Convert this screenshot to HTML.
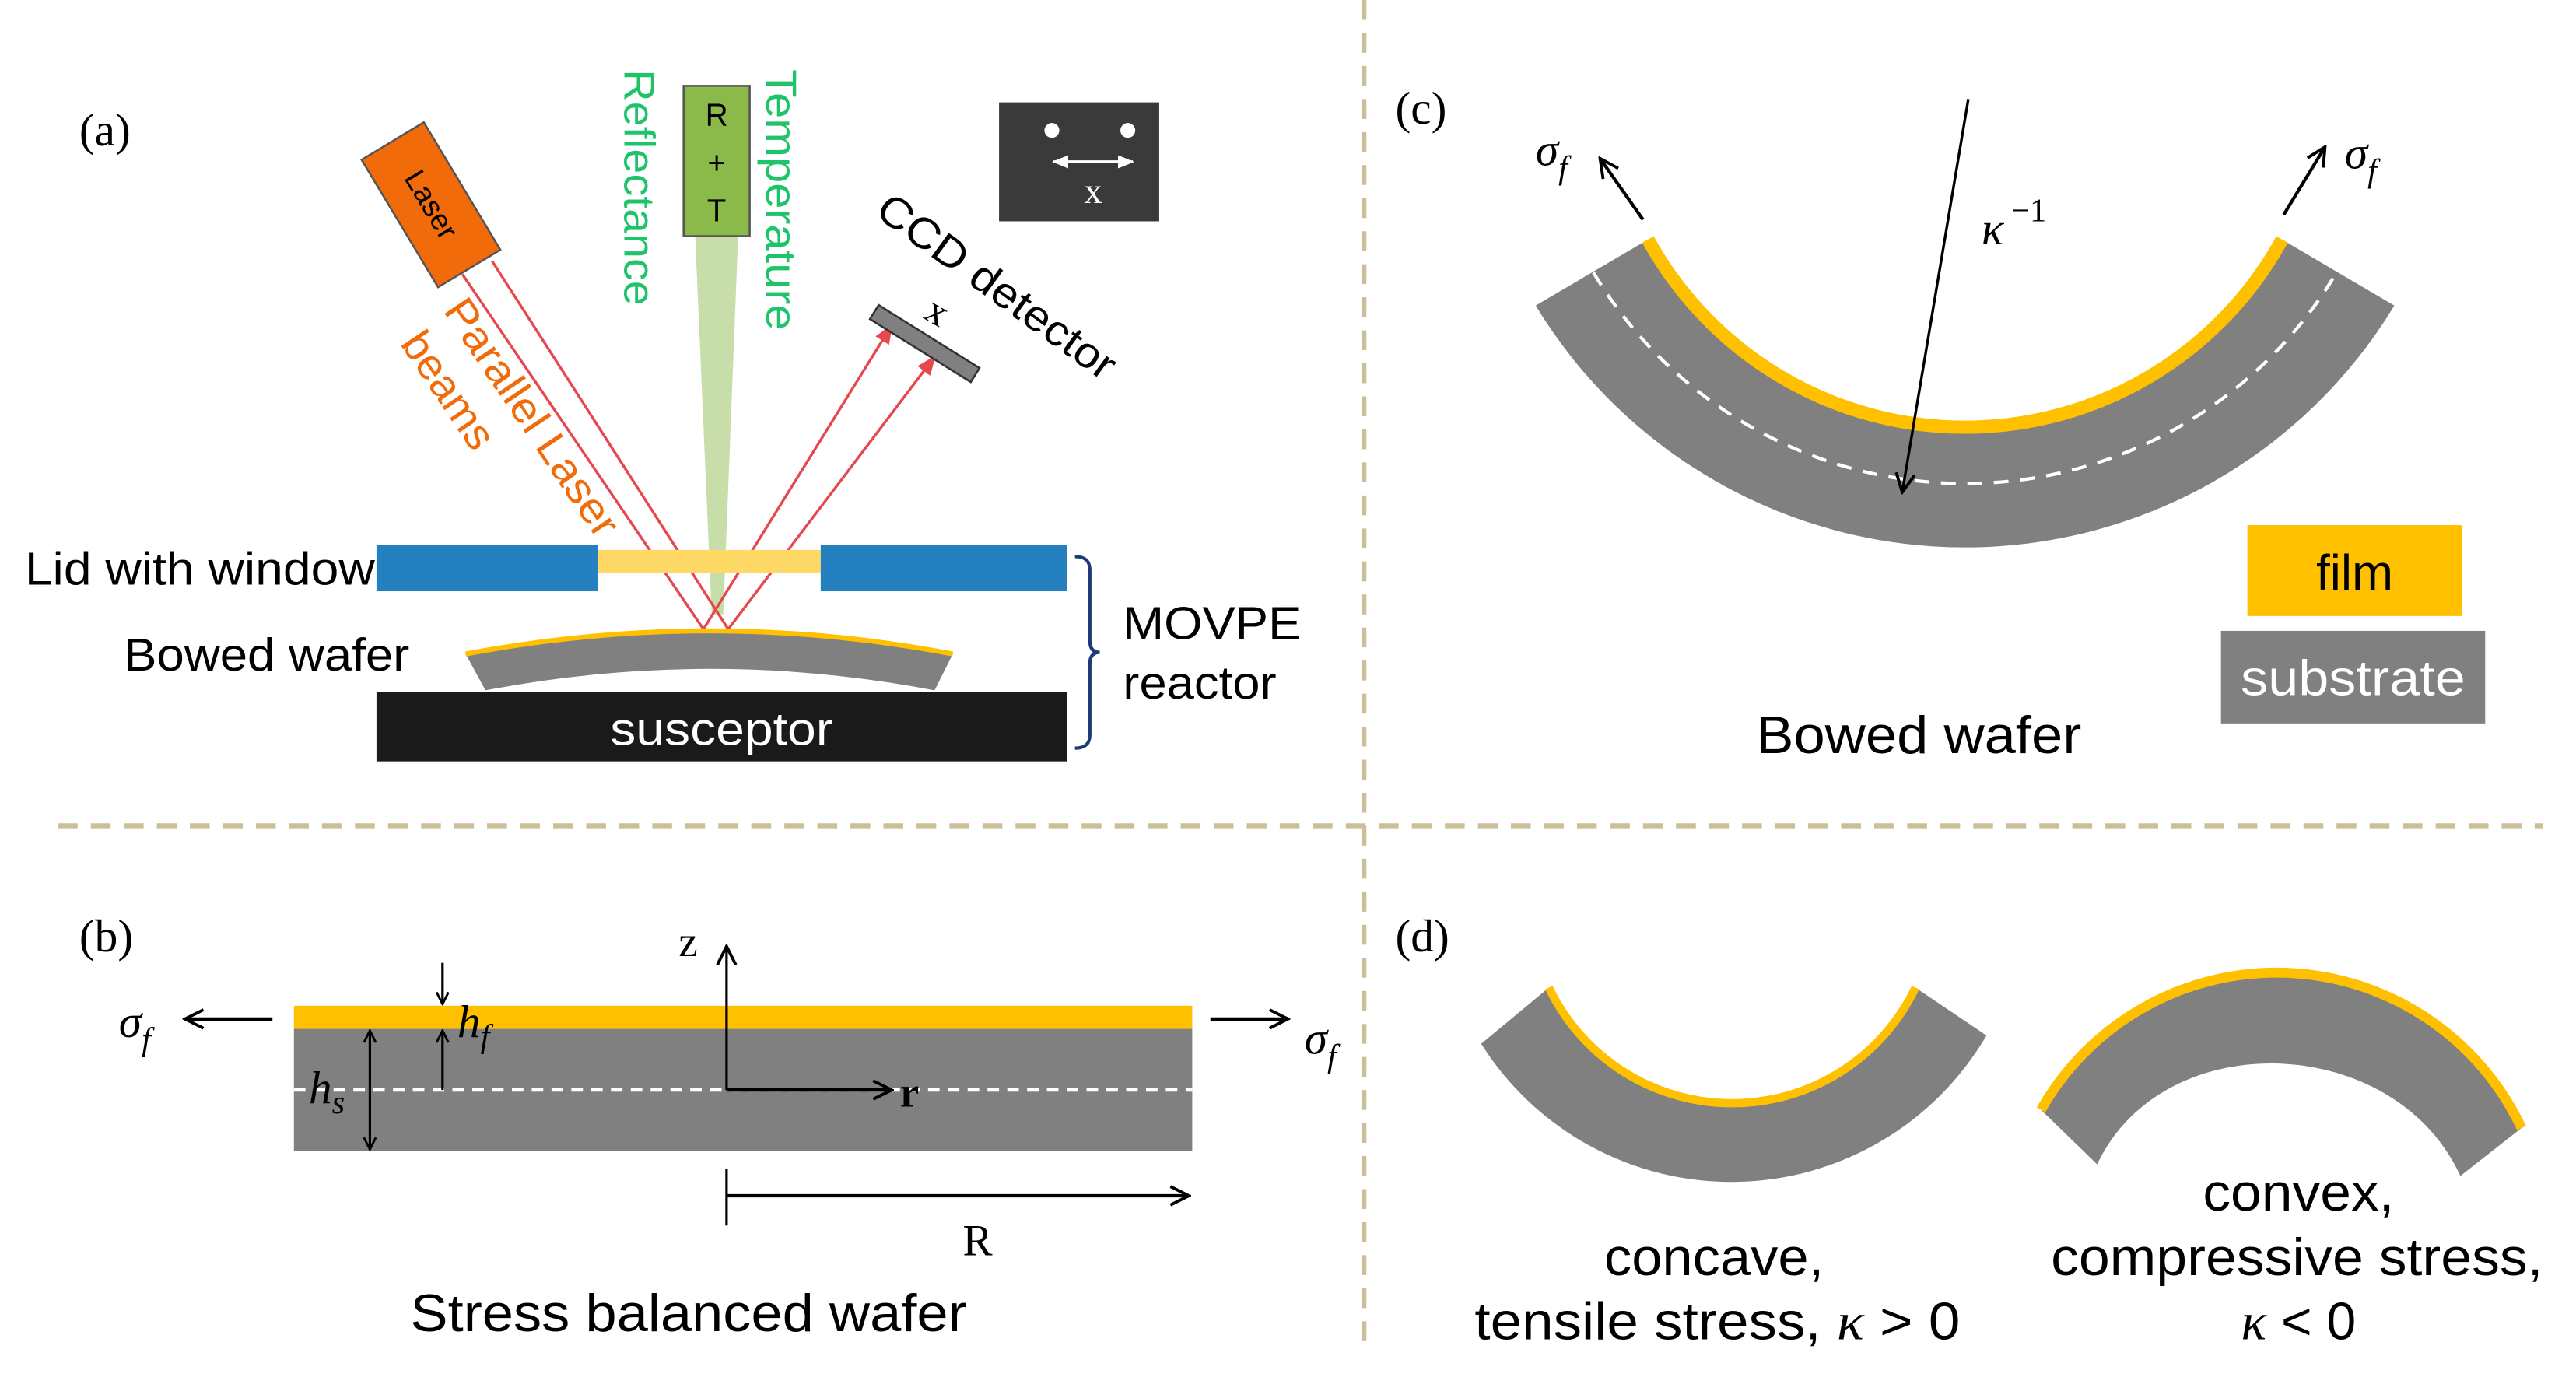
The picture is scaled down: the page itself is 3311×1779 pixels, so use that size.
<!DOCTYPE html>
<html><head><meta charset="utf-8"><style>html,body{margin:0;padding:0;background:#fff}svg{display:block}</style></head>
<body>
<svg width="3311" height="1779" viewBox="0 0 1560 838" preserveAspectRatio="none" xmlns="http://www.w3.org/2000/svg" font-family="Liberation Sans, sans-serif">
<defs>
<marker id="ab" viewBox="0 0 10 10" refX="9" refY="5" markerWidth="9" markerHeight="9" markerUnits="userSpaceOnUse" orient="auto"><path d="M1,1 L9,5 L1,9" fill="none" stroke="#000" stroke-width="1.5"/></marker>
<marker id="ab2" viewBox="0 0 10 10" refX="9" refY="5" markerWidth="14" markerHeight="14" markerUnits="userSpaceOnUse" orient="auto"><path d="M1,1 L9,5 L1,9" fill="none" stroke="#000" stroke-width="1.3"/></marker>
<marker id="ar" viewBox="0 0 10 10" refX="9" refY="5" markerWidth="12" markerHeight="12" markerUnits="userSpaceOnUse" orient="auto"><path d="M0,1 L10,5 L0,9 z" fill="#e5484d"/></marker>
<marker id="aw" viewBox="0 0 10 10" refX="9" refY="5" markerWidth="10" markerHeight="10" markerUnits="userSpaceOnUse" orient="auto-start-reverse"><path d="M0,1 L10,5 L0,9 z" fill="#fff"/></marker>
</defs>
<rect width="1560" height="838" fill="#fff"/>
<!-- dividers -->
<line x1="826" y1="0" x2="826" y2="815" stroke="#cbbf98" stroke-width="3" stroke-dasharray="12,8"/>
<line x1="35" y1="500" x2="1540" y2="500" stroke="#cbbf98" stroke-width="3" stroke-dasharray="12,8"/>

<!-- (a) -->
<text x="48" y="88" font-family="Liberation Serif, serif" font-size="28">(a)</text>
<g transform="translate(261,124) rotate(-31)">
<rect x="-22" y="-45" width="44" height="90" fill="#f26b0a" stroke="#555" stroke-width="1.2"/>
<text x="0" y="0" transform="rotate(90)" font-size="18" text-anchor="middle" dominant-baseline="central">Laser</text>
</g>
<polygon points="421,143 447,143 438,372 431,372" fill="#c8deaa"/>
<rect x="414" y="52" width="40" height="91" fill="#8cba4a" stroke="#555" stroke-width="1.2"/>
<text x="434" y="76" font-size="19" text-anchor="middle">R</text>
<text x="434" y="105" font-size="19" text-anchor="middle">+</text>
<text x="434" y="134" font-size="19" text-anchor="middle">T</text>
<text transform="translate(378,42) rotate(90)" font-size="26" fill="#1fc46a" textLength="143" lengthAdjust="spacingAndGlyphs">Reflectance</text>
<text transform="translate(464,42) rotate(90)" font-size="26" fill="#1fc46a" textLength="158" lengthAdjust="spacingAndGlyphs">Temperature</text>
<!-- beams -->
<line x1="280" y1="166" x2="426" y2="381" stroke="#e5484d" stroke-width="1.6"/>
<line x1="298" y1="158" x2="441" y2="381" stroke="#e5484d" stroke-width="1.6"/>
<line x1="426" y1="381" x2="540" y2="197" stroke="#e5484d" stroke-width="1.6" marker-end="url(#ar)"/>
<line x1="441" y1="381" x2="566" y2="216" stroke="#e5484d" stroke-width="1.6" marker-end="url(#ar)"/>
<text transform="translate(268,188) rotate(56)" font-size="26" fill="#f26b0a" textLength="168" lengthAdjust="spacingAndGlyphs">Parallel Laser</text>
<text transform="translate(242,208) rotate(56)" font-size="26" fill="#f26b0a" textLength="80" lengthAdjust="spacingAndGlyphs">beams</text>
<!-- CCD -->
<g transform="translate(560,208) rotate(32)">
<rect x="-36" y="-5" width="72" height="10" fill="#808080" stroke="#333" stroke-width="1.2"/>
</g>
<text x="560" y="197" font-family="Liberation Serif, serif" font-size="24" transform="rotate(30 568 192)">x</text>
<text transform="translate(529,130) rotate(36)" font-size="26" textLength="172" lengthAdjust="spacingAndGlyphs">CCD detector</text>
<rect x="605" y="62" width="97" height="72" fill="#3a3a3a"/>
<circle cx="637" cy="79" r="4.5" fill="#fff"/><circle cx="683" cy="79" r="4.5" fill="#fff"/>
<line x1="638" y1="98" x2="686" y2="98" stroke="#fff" stroke-width="1.8" marker-start="url(#aw)" marker-end="url(#aw)"/>
<text x="662" y="123" font-family="Liberation Serif, serif" font-size="22" fill="#fff" text-anchor="middle">x</text>
<!-- lid -->
<rect x="362" y="333" width="135" height="14" fill="#ffd966"/>
<rect x="228" y="330" width="134" height="28" fill="#2580c0"/>
<rect x="497" y="330" width="149" height="28" fill="#2580c0"/>
<text x="15" y="354" font-size="28" textLength="212" lengthAdjust="spacingAndGlyphs">Lid with window</text>
<!-- bowed wafer -->
<path d="M282,396 Q430,368 577,396 L566,418 Q430,392 294,418 Z" fill="#808080"/>
<path d="M282,396 Q430,368 577,396" fill="none" stroke="#ffc000" stroke-width="3"/>
<text x="75" y="406" font-size="28" textLength="173" lengthAdjust="spacingAndGlyphs">Bowed wafer</text>
<rect x="228" y="419" width="418" height="42" fill="#1a1a1a"/>
<text x="437" y="451" font-size="28" fill="#fff" text-anchor="middle" textLength="135" lengthAdjust="spacingAndGlyphs">susceptor</text>
<path d="M651,337 Q660,337 660,345 L660,388 Q660,395 666,395 Q660,395 660,402 L660,445 Q660,453 651,453" fill="none" stroke="#1f3a78" stroke-width="2"/>
<text x="680" y="387" font-size="28" textLength="108" lengthAdjust="spacingAndGlyphs">MOVPE</text>
<text x="680" y="423" font-size="28" textLength="93" lengthAdjust="spacingAndGlyphs">reactor</text>

<!-- (c) -->
<text x="845" y="75" font-family="Liberation Serif, serif" font-size="28">(c)</text>
<path d="M998,145 A219,219 0 0 0 1382,145 L1450,185 A304,304 0 0 1 930,185 Z" fill="#808080"/>
<path d="M998,145 A219,219 0 0 0 1382,145" fill="none" stroke="#ffc000" stroke-width="8"/>
<path d="M965,165 A262,262 0 0 0 1415,165" fill="none" stroke="#fff" stroke-width="2" stroke-dasharray="9,7"/>
<line x1="1192" y1="60" x2="1152" y2="298" stroke="#000" stroke-width="1.6" marker-end="url(#ab2)"/>
<text x="1200" y="148" font-family="Liberation Serif, serif" font-style="italic" font-size="28">κ</text>
<text x="1218" y="134" font-family="Liberation Serif, serif" font-size="20">−1</text>
<line x1="995" y1="133" x2="969" y2="96" stroke="#000" stroke-width="2" marker-end="url(#ab2)"/>
<line x1="1383" y1="130" x2="1408" y2="89" stroke="#000" stroke-width="2" marker-end="url(#ab2)"/>
<text x="930" y="100" font-family="Liberation Serif, serif" font-style="italic" font-size="28">σ<tspan font-size="20" dy="8">f</tspan></text>
<text x="1420" y="102" font-family="Liberation Serif, serif" font-style="italic" font-size="28">σ<tspan font-size="20" dy="8">f</tspan></text>
<rect x="1361" y="318" width="130" height="55" fill="#ffc000"/>
<text x="1426" y="357" font-size="30" text-anchor="middle">film</text>
<rect x="1345" y="382" width="160" height="56" fill="#808080"/>
<text x="1425" y="421" font-size="30" fill="#fff" text-anchor="middle" textLength="136" lengthAdjust="spacingAndGlyphs">substrate</text>
<text x="1162" y="456" font-size="32" text-anchor="middle" textLength="197" lengthAdjust="spacingAndGlyphs">Bowed wafer</text>

<!-- (b) -->
<text x="48" y="576" font-family="Liberation Serif, serif" font-size="28">(b)</text>
<rect x="178" y="609" width="544" height="14" fill="#ffc000"/>
<rect x="178" y="623" width="544" height="74" fill="#808080"/>
<line x1="178" y1="660" x2="722" y2="660" stroke="#fff" stroke-width="2" stroke-dasharray="7,5"/>
<line x1="165" y1="617" x2="112" y2="617" stroke="#000" stroke-width="2" marker-end="url(#ab2)"/>
<line x1="733" y1="617" x2="780" y2="617" stroke="#000" stroke-width="2" marker-end="url(#ab2)"/>
<text x="72" y="628" font-family="Liberation Serif, serif" font-style="italic" font-size="28">σ<tspan font-size="20" dy="8">f</tspan></text>
<text x="790" y="638" font-family="Liberation Serif, serif" font-style="italic" font-size="28">σ<tspan font-size="20" dy="8">f</tspan></text>
<line x1="268" y1="583" x2="268" y2="608" stroke="#000" stroke-width="1.5" marker-end="url(#ab)"/>
<line x1="268" y1="660" x2="268" y2="624" stroke="#000" stroke-width="1.5" marker-end="url(#ab)"/>
<text x="277" y="628" font-family="Liberation Serif, serif" font-style="italic" font-size="28">h<tspan font-size="20" dy="6">f</tspan></text>
<line x1="224" y1="660" x2="224" y2="624" stroke="#000" stroke-width="1.5" marker-end="url(#ab)"/>
<line x1="224" y1="660" x2="224" y2="696" stroke="#000" stroke-width="1.5" marker-end="url(#ab)"/>
<text x="187" y="668" font-family="Liberation Serif, serif" font-style="italic" font-size="28">h<tspan font-size="20" dy="6">s</tspan></text>
<line x1="440" y1="660" x2="440" y2="573" stroke="#000" stroke-width="1.5" marker-end="url(#ab2)"/>
<line x1="440" y1="660" x2="540" y2="660" stroke="#000" stroke-width="2" marker-end="url(#ab2)"/>
<text x="411" y="579" font-family="Liberation Serif, serif" font-size="26">z</text>
<text x="545" y="670" font-family="Liberation Serif, serif" font-weight="bold" font-size="26">r</text>
<line x1="440" y1="708" x2="440" y2="742" stroke="#000" stroke-width="1.5"/>
<line x1="440" y1="724" x2="720" y2="724" stroke="#000" stroke-width="2" marker-end="url(#ab2)"/>
<text x="592" y="760" font-family="Liberation Serif, serif" font-size="27" text-anchor="middle">R</text>
<text x="417" y="806" font-size="32" text-anchor="middle" textLength="337" lengthAdjust="spacingAndGlyphs">Stress balanced wafer</text>

<!-- (d) -->
<text x="845" y="576" font-family="Liberation Serif, serif" font-size="28">(d)</text>
<path d="M938,598 A123,123 0 0 0 1160,598 L1203,627 A179,179 0 0 1 897,632 Z" fill="#808080"/>
<path d="M938,598 A123,123 0 0 0 1160,598" fill="none" stroke="#ffc000" stroke-width="5"/>
<path d="M1236,672 A164,164 0 0 1 1527,683 L1490,712 C1450,625 1310,620 1270,705 Z" fill="#808080"/>
<path d="M1236,672 A164,164 0 0 1 1527,683" fill="none" stroke="#ffc000" stroke-width="6"/>
<text x="1038" y="772" font-size="32" text-anchor="middle" textLength="133" lengthAdjust="spacingAndGlyphs">concave,</text>
<text x="1040" y="811" font-size="32" text-anchor="middle" textLength="294" lengthAdjust="spacingAndGlyphs">tensile stress, <tspan font-family="Liberation Serif, serif" font-style="italic">κ</tspan> &gt; 0</text>
<text x="1392" y="733" font-size="32" text-anchor="middle" textLength="116" lengthAdjust="spacingAndGlyphs">convex,</text>
<text x="1391" y="772" font-size="32" text-anchor="middle" textLength="298" lengthAdjust="spacingAndGlyphs">compressive stress,</text>
<text x="1392" y="811" font-size="32" text-anchor="middle"><tspan font-family="Liberation Serif, serif" font-style="italic">κ</tspan> &lt; 0</text>
</svg>
</body></html>
